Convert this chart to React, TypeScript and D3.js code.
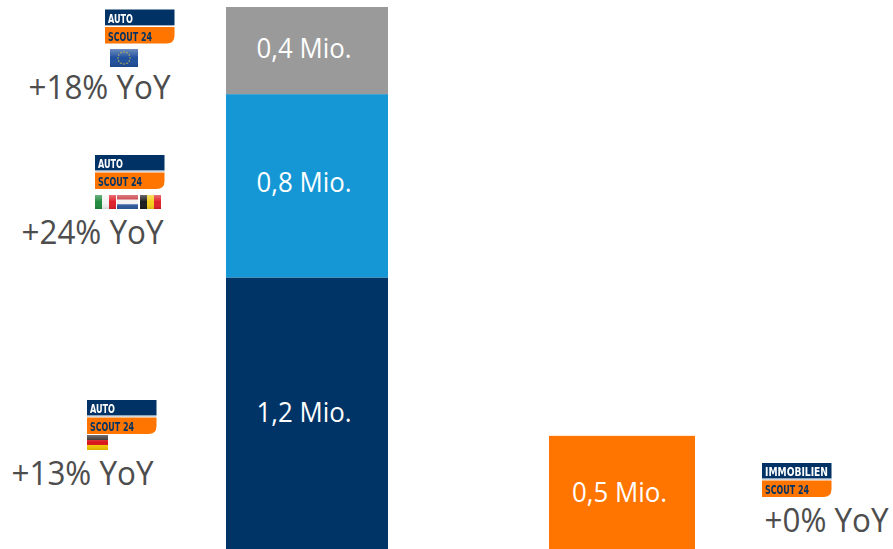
import React from "react";
import * as d3 from "d3";

// --- data ---
const categories = ["AutoScout24", "ImmobilienScout24"];
const seriesNames = ["de", "benelux", "eu", "immo"];
const seriesColors = ["#003366", "#1597d6", "#9a9a9a", "#ff7500"];
const deValues = [1.2, 0];
const beneluxValues = [0.81, 0];
const euValues = [0.385, 0];
const immoValues = [0, 0.5];
const valueLabels = ["1,2 Mio.", "0,8 Mio.", "0,4 Mio.", "0,5 Mio."];
const growthLabels = ["+13% YoY", "+24% YoY", "+18% YoY", "+0% YoY"];

// --- layout ---
const W = 893;
const H = 549;
const FONT = "'Open Sans', 'Noto Sans', sans-serif";
const colExtents: [number, number][] = [[226, 388], [549, 695]];
const growthPos: [number, number, number][] = [[11.5, 484.5, 142], [21.5, 243.5, 142], [28.5, 98.7, 142], [764.5, 532.3, 124]];
const labelOffset: [number, number][] = [[-3, 8.5], [-3, 6.5], [-3, 7.2], [-2.5, 9.5]];

const y = d3.scaleLinear().domain([0, 2.395]).range([H, 7]);
const xOf = (i: number) => colExtents[i];

const rows = categories.map((c, i) => ({
  c,
  de: deValues[i],
  benelux: beneluxValues[i],
  eu: euValues[i],
  immo: immoValues[i],
}));
const stacked = d3.stack<any>().keys(seriesNames)(rows);

function Logo({ x, y: top, top1, bottom }: { x: number; y: number; top1: string; bottom: string }) {
  const w = 69.5;
  const navyH = 15.5;
  const oy = top + navyH + 2;
  const oh = 16.5;
  const r = 8;
  const orange = `M${x},${oy}H${x + w}V${oy + oh - r}Q${x + w},${oy + oh} ${x + w - r},${oy + oh}H${x}Z`;
  const wide = top1.length > 6;
  const f = "'DejaVu Sans Condensed', 'DejaVu Sans', sans-serif";
  return (
    <g filter="url(#soft)">
      <rect x={x} y={top} width={w} height={navyH} fill="#003366" />
      <rect x={x} y={top + navyH} width={w} height={1} fill="#9fb0c2" />
      <path d={orange} fill="#ff7500" />
      <text x={x + 3} y={top + 13} fill="#fff" fontFamily={f} fontWeight={700} fontSize={12}
        textLength={wide ? 63 : 25} lengthAdjust="spacingAndGlyphs">{top1}</text>
      <text x={x + 3} y={oy + 13.5} fill="#003366" fontFamily={f} fontWeight={700} fontSize={12}
        textLength={44} lengthAdjust="spacingAndGlyphs">{bottom}</text>
    </g>
  );
}

function Gloss({ x, y: t, w, h }: { x: number; y: number; w: number; h: number }) {
  return <rect x={x} y={t} width={w} height={h} fill="url(#gloss)" />;
}

function FlagDE({ x, y: t }: { x: number; y: number }) {
  return (
    <g filter="url(#soft)">
      <rect x={x} y={t} width={21} height={5} fill="#2a2222" />
      <rect x={x} y={t + 5} width={21} height={5} fill="#d8161c" />
      <rect x={x} y={t + 10} width={21} height={5} fill="#f6c800" />
      <Gloss x={x} y={t} w={21} h={15} />
    </g>
  );
}
function FlagIT({ x, y: t }: { x: number; y: number }) {
  return (
    <g filter="url(#soft)">
      <rect x={x} y={t} width={7} height={14} fill="#1f8a3c" />
      <rect x={x + 7} y={t} width={7} height={14} fill="#f4f4f4" />
      <rect x={x + 14} y={t} width={7} height={14} fill="#e0202a" />
      <Gloss x={x} y={t} w={21} h={14} />
    </g>
  );
}
function FlagNL({ x, y: t }: { x: number; y: number }) {
  return (
    <g filter="url(#soft)">
      <rect x={x} y={t} width={21} height={4.7} fill="#c8343c" />
      <rect x={x} y={t + 4.7} width={21} height={4.6} fill="#f2f2f2" />
      <rect x={x} y={t + 9.3} width={21} height={4.7} fill="#2f5aa0" />
      <Gloss x={x} y={t} w={21} h={14} />
    </g>
  );
}
function FlagBE({ x, y: t }: { x: number; y: number }) {
  return (
    <g filter="url(#soft)">
      <rect x={x} y={t} width={7} height={14} fill="#1c1c1c" />
      <rect x={x + 7} y={t} width={7} height={14} fill="#f6cf1a" />
      <rect x={x + 14} y={t} width={7} height={14} fill="#e0202a" />
      <Gloss x={x} y={t} w={21} h={14} />
    </g>
  );
}
function FlagEU({ x, y: t }: { x: number; y: number }) {
  const stars = d3.range(12).map((i) => (i / 12) * 2 * Math.PI);
  return (
    <g filter="url(#soft)">
      <rect x={x} y={t} width={28} height={18} fill="#1f4f9c" />
      <Gloss x={x} y={t} w={28} h={18} />
      {stars.map((a, i) => (
        <circle key={i} cx={x + 14 + 6 * Math.cos(a)} cy={t + 9 + 6 * Math.sin(a)} r={0.7} fill="#d8c83c" />
      ))}
    </g>
  );
}

export default function App() {
  return (
    <svg width={W} height={H} viewBox={`0 0 ${W} ${H}`}
      style={{ position: "absolute", left: 0, top: 0, background: "#fff" }}>
      <defs>
        <filter id="soft" x="-5%" y="-5%" width="110%" height="110%">
          <feGaussianBlur stdDeviation="0.35" />
        </filter>
        <linearGradient id="gloss" x1="0" y1="0" x2="0" y2="1">
          <stop offset="0" stopColor="#fff" stopOpacity={0.35} />
          <stop offset="0.5" stopColor="#fff" stopOpacity={0} />
          <stop offset="1" stopColor="#000" stopOpacity={0.12} />
        </linearGradient>
      </defs>
      {stacked.map((s, si) =>
        s.map((d, i) => {
          if (d[1] - d[0] <= 0) return null;
          const [x0, x1] = xOf(i);
          const yTop = y(d[1]);
          const yBot = y(d[0]);
          return (
            <g key={`${si}-${i}`}>
              <rect x={x0} y={yTop} width={x1 - x0} height={yBot - yTop} fill={seriesColors[si]} />
              <text x={(x0 + x1) / 2 + labelOffset[si][0]} y={(yTop + yBot) / 2 + labelOffset[si][1]} textAnchor="middle" fill="#fff"
                fontFamily={FONT} fontSize={27} textLength={95} lengthAdjust="spacingAndGlyphs">{valueLabels[si]}</text>
            </g>
          );
        })
      )}
      {growthLabels.map((t, i) => (
        <text key={t} x={growthPos[i][0]} y={growthPos[i][1]} fill="#4d4d4d" fontFamily={FONT} fontSize={32}
          textLength={growthPos[i][2]} lengthAdjust="spacingAndGlyphs">{t}</text>
      ))}
      <Logo x={105} y={9.5} top1="AUTO" bottom="SCOUT 24" />
      <FlagEU x={110} y={49} />
      <Logo x={95} y={155} top1="AUTO" bottom="SCOUT 24" />
      <FlagIT x={95} y={195} />
      <FlagNL x={117} y={195} />
      <FlagBE x={140} y={195} />
      <Logo x={87} y={400} top1="AUTO" bottom="SCOUT 24" />
      <FlagDE x={87} y={435} />
      <Logo x={762} y={463} top1="IMMOBILIEN" bottom="SCOUT 24" />
    </svg>
  );
}
